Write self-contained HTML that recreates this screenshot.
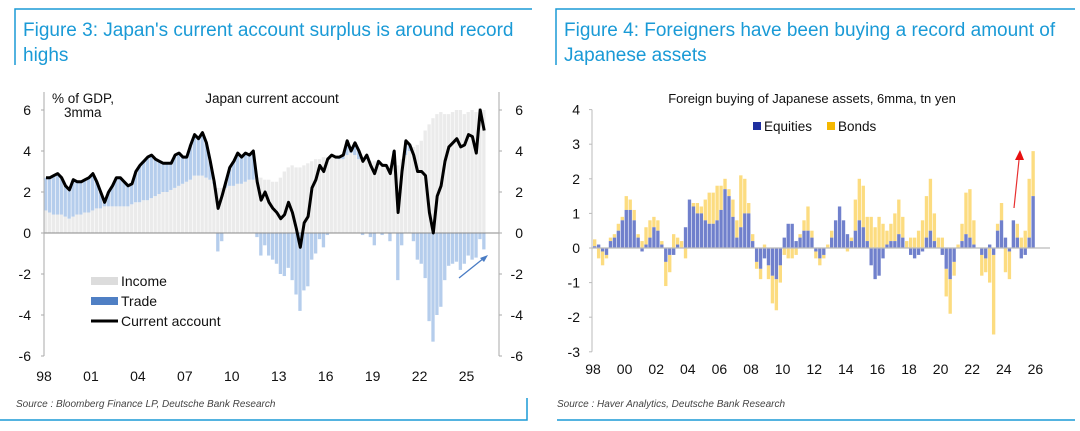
<!DOCTYPE html>
<html><head><meta charset="utf-8"><style>
body{margin:0;background:#fff;font-family:"Liberation Sans",sans-serif;}
svg{display:block}
</style></head><body>
<svg width="1080" height="431" viewBox="0 0 1080 431" xmlns="http://www.w3.org/2000/svg" font-family="Liberation Sans, sans-serif">
<g>
<path d="M15,65 V9 H532" fill="none" stroke="#1a9ad6" stroke-width="1.5"/>
<text x="23" y="36" font-size="19" fill="#1a9ad6">Figure 3: Japan's current account surplus is around record</text>
<text x="23" y="61" font-size="19" fill="#1a9ad6">highs</text>
</g>
<g>
<path d="M556,65 V9 H1075" fill="none" stroke="#1a9ad6" stroke-width="1.5"/>
<text x="564" y="36" font-size="19" fill="#1a9ad6">Figure 4: Foreigners have been buying a record amount of</text>
<text x="564" y="61" font-size="19" fill="#1a9ad6">Japanese assets</text>
</g>
<path d="M0,420 H527 V398" fill="none" stroke="#1a9ad6" stroke-width="1.5"/>
<path d="M557,420 H1075" fill="none" stroke="#1a9ad6" stroke-width="1.5"/>
<text x="16" y="407" font-size="10" font-style="italic" fill="#444">Source : Bloomberg Finance LP, Deutsche Bank Research</text>
<text x="557" y="407" font-size="10" font-style="italic" fill="#444">Source : Haver Analytics, Deutsche Bank Research</text>

<g id="left"></g>
<g id="right"></g>
</svg>
<script>
// Left chart data (quarterly, from 1998Q1)
const caStart = 1998;
const income = [1.1,1.0,0.9,0.9, 0.9,0.8,0.7,0.8, 0.9,0.9,1.0,1.0, 1.1,1.2,1.2,1.3, 1.3,1.3,1.3,1.3, 1.3,1.3,1.4,1.5, 1.5,1.6,1.6,1.7, 1.8,1.9,2.0,2.0, 2.1,2.2,2.3,2.4, 2.5,2.6,2.8,2.8, 2.8,2.7,2.6,2.4, 2.2,2.2,2.2,2.3, 2.3,2.4,2.4,2.5, 2.6,2.6,2.7,2.7, 2.6,2.6,2.5,2.5, 2.7,3.0,3.2,3.3, 3.2,3.2,3.3,3.4, 3.5,3.6,3.6,3.7, 3.7,3.8,3.7,3.6, 3.6,3.8,3.9,3.8, 3.6,3.6,3.6,3.5, 3.5,3.4,3.4,3.3, 3.3,3.3,3.3,3.6, 3.8,4.0,4.2,4.3, 4.5,5.0,5.3,5.6, 5.8,5.9,5.8,5.8, 5.9,6.0,6.0,5.8, 5.9,6.0,5.9,6.1,6.0];
const trade = [1.6,1.7,1.9,2.0, 1.8,1.5,1.4,1.8, 1.6,1.6,1.6,1.7, 1.8,1.3,0.8,0.2, 0.7,1.0,1.4,1.4, 1.2,1.0,1.0,1.5, 1.8,1.9,2.1,2.1, 1.8,1.6,1.4,1.4, 1.3,1.6,1.6,1.3, 1.2,1.7,2.0,1.8, 2.1,1.7,0.9,0.1, -0.9,-0.4,0.3,0.9, 1.2,1.5,1.3,1.4, 1.2,1.4,-0.2,-1.1, -0.6,-1.1,-1.3,-1.5, -2.0,-2.1,-1.7,-2.3, -3.0,-3.8,-2.8,-2.6, -1.3,-1.0,-0.3,-0.7, -0.1,0.0,0.0,0.1, 0.2,0.7,0.1,0.6, 0.4,-0.1,0.2,-0.2, -0.6,0.1,-0.1,0.0, -0.4,0.7,-2.3,-0.6, 0.7,0.3,-0.4,-1.3, -1.5,-2.2,-4.3,-5.3, -4.0,-3.6,-2.3,-1.6, -1.5,-1.4,-1.8,-1.5, -1.1,-1.3,-1.2,-0.3,-0.8];
const ca = [2.7,2.7,2.8,2.9, 2.7,2.3,2.1,2.6, 2.5,2.5,2.6,2.7, 2.9,2.5,2.0,1.5, 2.0,2.3,2.7,2.7, 2.5,2.3,2.4,3.0, 3.3,3.5,3.7,3.8, 3.6,3.5,3.4,3.4, 3.4,3.8,3.9,3.7, 3.7,4.3,4.8,4.6, 4.9,4.4,3.5,2.5, 1.2,1.8,2.5,3.2, 3.5,3.9,3.7,3.9, 3.8,4.0,2.5,1.6, 2.0,1.5,1.2,1.0, 0.7,0.9,1.5,1.0, 0.2,-0.7,0.5,0.8, 2.2,2.6,3.3,3.0, 3.6,3.8,3.7,3.7, 3.8,4.5,4.0,4.4, 4.0,3.5,3.8,3.3, 2.9,3.5,3.3,3.3, 2.9,4.0,1.0,3.0, 4.5,4.3,3.8,3.0, 3.0,2.8,1.0,0.0, 1.8,2.3,3.5,4.2, 4.4,4.6,4.2,4.3, 4.8,4.7,3.9,6.0,5.0];
const leftTicks = [6,4,2,0,-2,-4,-6];
const leftYears = ["98","01","04","07","10","13","16","19","22","25"];

// Right chart data (quarterly, from 1998Q1), tn yen
const equities = [0.05,0.1,-0.1,-0.2, 0.2,0.3,0.5,0.8, 1.1,1.1,0.8,0.3, -0.1,0.1,0.3,0.6, 0.5,0.1,-0.4,-0.2, -0.2,0.1,0.0,0.6, 1.4,1.2,1.0,1.0, 0.8,0.7,0.7,0.8, 1.1,1.7,1.5,0.9, 0.3,0.6,1.0,1.0, 0.2,-0.4,-0.6,-0.3, -0.5,-0.8,-0.9,-0.5, 0.3,0.7,0.7,0.2, 0.3,0.5,0.5,0.3, -0.1,-0.3,-0.2,0.0, 0.3,0.8,1.2,0.8, 0.4,0.2,0.5,0.8, 0.6,0.2,-0.5,-0.9, -0.8,-0.3,0.1,0.2, 0.2,0.4,0.3,0.0, -0.2,-0.3,-0.2,-0.1, 0.3,0.5,0.2,0.0, -0.2,-0.6,-0.9,-0.4, 0.0,0.2,0.4,0.3, 0.1,0.0,-0.2,-0.3, 0.1,-0.2,0.5,0.8, 0.3,-0.1,0.8,0.3, -0.3,-0.2,0.3,1.5];
const bonds = [0.2,-0.3,-0.4,-0.1, 0.1,0.1,0.2,0.1, 0.4,0.3,0.3,0.1, 0.2,0.5,0.5,0.3, 0.3,0.1,-0.7,-0.5, 0.4,0.2,0.2,-0.3, 0.0,0.1,0.3,0.2, 0.6,0.9,0.9,1.0, 0.7,0.3,0.2,0.5, 0.5,1.5,1.0,0.3, 0.2,-0.2,-0.3,0.1, -0.4,-0.8,-0.9,-0.5, -0.2,-0.3,-0.3,-0.2, 0.1,0.3,0.7,0.2, -0.2,-0.2,-0.1,0.1, 0.2,0.0,0.0,0.0, -0.1,0.1,0.9,1.2, 1.2,0.7,0.9,0.6, 0.9,0.7,0.4,0.5, 0.8,1.0,0.6,0.2, 0.3,0.3,0.5,0.8, 1.2,1.5,0.8,0.3, 0.3,-0.8,-1.0,-0.4, 0.1,0.5,1.2,1.4, 0.7,0.0,-0.6,-0.4, -1.0,-2.3,0.2,0.5, -0.7,-0.8,0.0,0.4, 0.3,0.5,1.7,1.3];
const rightTicks = [4,3,2,1,0,-1,-2,-3];
const rightYears = ["98","00","02","04","06","08","10","12","14","16","18","20","22","24","26"];

const NS = "http://www.w3.org/2000/svg";
function mk(parent, tag, attrs, txt){
  const e = document.createElementNS(NS, tag);
  for (const k in attrs) e.setAttribute(k, attrs[k]);
  if (txt !== undefined) e.textContent = txt;
  parent.appendChild(e);
  return e;
}

// ---- Left chart ----
(function(){
  const g = document.getElementById('left');
  const y = v => 233 - v * 20.5;
  const x = t => 44 + (t - 1998) * 15.65;
  const bw = 15.65 / 4;
  for (let i = 0; i < income.length; i++) {
    const t = caStart + i / 4;
    const inc = income[i], tr = trade[i];
    const r1 = mk(g, 'rect', {x: x(t), y: y(inc), width: bw - 0.6, height: y(0) - y(inc), fill: '#ebebeb'});
    
    
    let y0, y1;
    if (tr >= 0) { y0 = y(inc + tr); y1 = y(inc); } else { y0 = y(0); y1 = y(tr); }
    const r2 = mk(g, 'rect', {x: x(t), y: y0, width: bw - 0.6, height: Math.max(0, y1 - y0), fill: '#b5cdec'});
    
    
  }
  mk(g, 'line', {x1: 44, x2: 499, y1: y(0), y2: y(0), stroke: '#888', 'stroke-width': 1});
  mk(g, 'line', {x1: 44, x2: 44, y1: 92, y2: y(-6), stroke: '#aaa', 'stroke-width': 1});
  mk(g, 'line', {x1: 499, x2: 499, y1: 92, y2: y(-6), stroke: '#aaa', 'stroke-width': 1});
  leftTicks.forEach(v => {
    mk(g, 'line', {x1: 41, x2: 44, y1: y(v), y2: y(v), stroke: '#aaa'});
    mk(g, 'line', {x1: 499, x2: 502, y1: y(v), y2: y(v), stroke: '#aaa'});
    const a = mk(g, 'text', {x: 31, y: y(v) + 5, 'font-size': 14, 'text-anchor': 'end', fill: '#111'}, String(v));
    
    
    const b = mk(g, 'text', {x: 523, y: y(v) + 5, 'font-size': 14, 'text-anchor': 'end', fill: '#111'}, String(v));
    
    
  });
  leftYears.forEach((s, i) => {
    const t = mk(g, 'text', {x: x(1998 + i * 3), y: 381, 'font-size': 14, 'text-anchor': 'middle', fill: '#111'}, s);
    
    
  });
  const pts = ca.map((v, i) => (x(caStart + i / 4) + bw / 2).toFixed(1) + ',' + y(v).toFixed(1)).join(' ');
  const pl = mk(g, 'polyline', {points: pts, fill: 'none', stroke: '#000', 'stroke-width': 3, 'stroke-linejoin': 'round'});
  
  
  mk(g, 'text', {x: 52, y: 103, 'font-size': 13.5, fill: '#111'}, '% of GDP,');
  mk(g, 'text', {x: 64, y: 117, 'font-size': 13.5, fill: '#111'}, '3mma');
  mk(g, 'text', {x: 272, y: 103, 'font-size': 13.5, 'text-anchor': 'middle', fill: '#111'}, 'Japan current account');
  mk(g, 'rect', {x: 91, y: 277, width: 27, height: 8, fill: '#dcdcdc'});
  mk(g, 'text', {x: 121, y: 286, 'font-size': 14, fill: '#111'}, 'Income');
  mk(g, 'rect', {x: 91, y: 297, width: 27, height: 8, fill: '#4f7fc4'});
  mk(g, 'text', {x: 121, y: 306, 'font-size': 14, fill: '#111'}, 'Trade');
  mk(g, 'line', {x1: 91, x2: 118, y1: 321, y2: 321, stroke: '#000', 'stroke-width': 3});
  mk(g, 'text', {x: 121, y: 326, 'font-size': 14, fill: '#111'}, 'Current account');
  mk(g, 'line', {x1: 459, y1: 278, x2: 484, y2: 258, stroke: '#4a7cc4', 'stroke-width': 1.3});
  mk(g, 'polygon', {points: '488,255 480,258 484,262', fill: '#4a7cc4'});
})();

// ---- Right chart ----
(function(){
  const g = document.getElementById('right');
  const y = v => 248 - v * 34.6;
  const x = t => 593 + (t - 1998) * 15.8;
  const bw = 15.8 / 4;
  for (let i = 0; i < equities.length; i++) {
    const t = 1998 + i / 4;
    const e = equities[i], b = bonds[i];
    const ey0 = Math.min(y(0), y(e)), eh = Math.abs(y(e) - y(0));
    let base = (b >= 0) === (e >= 0) ? e : 0;
    const by0 = Math.min(y(base), y(base + b)), bh = Math.abs(b * 34.6);
    const rb = mk(g, 'rect', {x: x(t), y: by0, width: bw - 0.6, height: bh, fill: '#fcdc80'});
    
    
    const re = mk(g, 'rect', {x: x(t), y: ey0, width: bw - 0.6, height: eh, fill: '#7080cc'});
    
    
  }
  mk(g, 'line', {x1: 592, x2: 1050, y1: y(0), y2: y(0), stroke: '#bbb', 'stroke-width': 1.2});
  mk(g, 'line', {x1: 592, x2: 592, y1: y(4), y2: y(-3), stroke: '#bbb', 'stroke-width': 1});
  rightTicks.forEach(v => {
    mk(g, 'line', {x1: 589, x2: 592, y1: y(v), y2: y(v), stroke: '#bbb'});
    const a = mk(g, 'text', {x: 580, y: y(v) + 5, 'font-size': 14, 'text-anchor': 'end', fill: '#111'}, String(v));
    
    
  });
  rightYears.forEach((s, i) => {
    const t = mk(g, 'text', {x: x(1998 + i * 2), y: 374, 'font-size': 14, 'text-anchor': 'middle', fill: '#111'}, s);
    
    
  });
  mk(g, 'text', {x: 812, y: 103, 'font-size': 13, 'text-anchor': 'middle', fill: '#111'}, 'Foreign buying of Japanese assets, 6mma, tn yen');
  mk(g, 'rect', {x: 753, y: 122, width: 8, height: 8, fill: '#1f2fa0'});
  mk(g, 'text', {x: 764, y: 131, 'font-size': 13.5, fill: '#111'}, 'Equities');
  mk(g, 'rect', {x: 827, y: 122, width: 8, height: 8, fill: '#f5b800'});
  mk(g, 'text', {x: 838, y: 131, 'font-size': 13.5, fill: '#111'}, 'Bonds');
  mk(g, 'line', {x1: 1014, y1: 208, x2: 1019, y2: 160, stroke: '#e83030', 'stroke-width': 1.2});
  mk(g, 'polygon', {points: '1020,150 1015,160 1024,160', fill: '#e81010'});
})();
</script>
</body></html>
